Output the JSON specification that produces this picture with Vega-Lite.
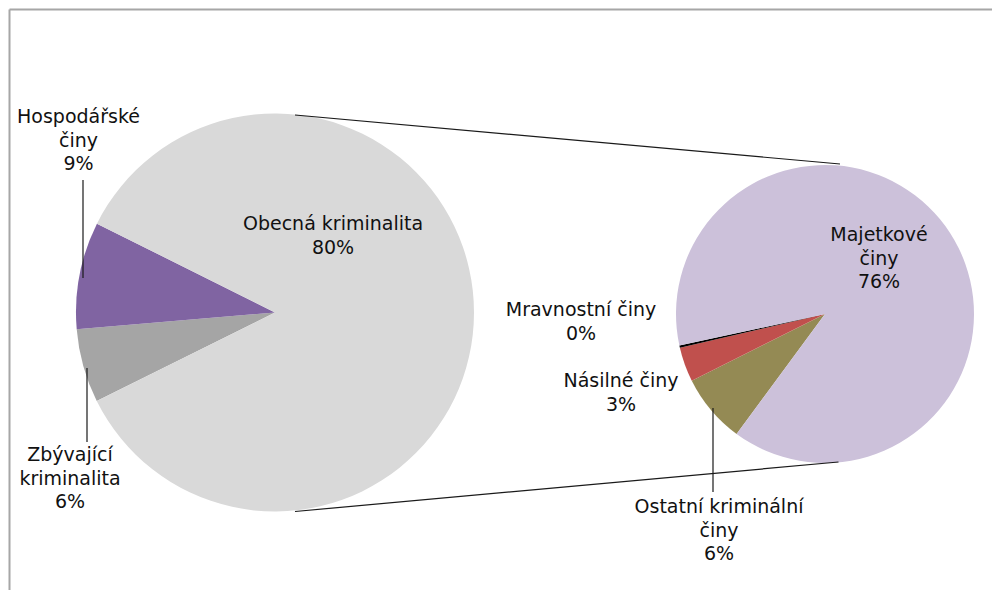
{
  "$schema": "https://vega.github.io/schema/vega-lite/v6.json",
  "autosize": {"type": "none"},
  "width": 983,
  "height": 581,
  "padding": {"left": 9, "top": 9, "right": 0, "bottom": 0},
  "background": "white",
  "config": {
    "view": {"stroke": null},
    "axis": {"ticks": false, "labels": false, "grid": false, "domainColor": "#a6a6a6", "domainWidth": 2, "title": null}
  },
  "datasets": {
    "pies": [
      {"pie": "A", "cx": 26.6, "cy": 30.35},
      {"pie": "B", "cx": 81.6, "cy": 30.5}
    ],
    "slices": [
      {"pie": "A", "kategorie": "Zbývající kriminalita", "hodnota": 6.0, "i": 1},
      {"pie": "A", "kategorie": "Hospodářské činy", "hodnota": 8.7, "i": 2},
      {"pie": "A", "kategorie": "Obecná kriminalita", "hodnota": 85.3, "i": 3},
      {"pie": "B", "kategorie": "Ostatní kriminální činy", "hodnota": 6.4, "i": 1},
      {"pie": "B", "kategorie": "Násilné činy", "hodnota": 3.2, "i": 2},
      {"pie": "B", "kategorie": "Mravnostní činy", "hodnota": 0.2, "i": 3},
      {"pie": "B", "kategorie": "Majetkové činy", "hodnota": 75.5, "i": 4}
    ],
    "lines": [
      {"typ": "spojnice", "x": 28.6, "y": 10.6, "x2": 83.1, "y2": 15.5},
      {"typ": "spojnice", "x": 28.6, "y": 50.25, "x2": 82.95, "y2": 45.3},
      {"typ": "odkaz", "x": 7.4, "y": 17.1, "x2": 7.4, "y2": 26.9},
      {"typ": "odkaz", "x": 7.8, "y": 35.9, "x2": 7.8, "y2": 43.3},
      {"typ": "odkaz", "x": 70.4, "y": 39.9, "x2": 70.4, "y2": 48.3}
    ],
    "labels": [
      {"x": 6.95, "y": 10.8, "t": "Hospodářské\nčiny\n9%"},
      {"x": 32.4, "y": 21.5, "t": "Obecná kriminalita\n80%"},
      {"x": 6.1, "y": 44.6, "t": "Zbývající\nkriminalita\n6%"},
      {"x": 57.2, "y": 30.1, "t": "Mravnostní činy\n0%"},
      {"x": 61.2, "y": 37.2, "t": "Násilné činy\n3%"},
      {"x": 87.0, "y": 22.6, "t": "Majetkové\nčiny\n76%"},
      {"x": 71.0, "y": 49.8, "t": "Ostatní kriminální\nčiny\n6%"}
    ]
  },
  "resolve": {"scale": {"theta": "independent"}},
  "layer": [
    {
      "data": {"name": "slices"},
      "transform": [
        {"filter": "datum.pie == 'A'"},
        {"lookup": "pie", "from": {"data": {"name": "pies"}, "key": "pie", "fields": ["cx", "cy"]}}
      ],
      "mark": {"type": "arc", "outerRadius": 199},
      "encoding": {
        "x": {"field": "cx", "type": "quantitative", "scale": {"domain": [0, 98.3], "nice": false, "zero": false}, "axis": {"orient": "top"}},
        "y": {"field": "cy", "type": "quantitative", "scale": {"domain": [0, 58.1], "nice": false, "zero": false, "reverse": true}, "axis": {"orient": "left"}},
        "theta": {"field": "hodnota", "type": "quantitative", "stack": true, "scale": {"range": [4.2517, 10.5349]}},
        "order": {"field": "i", "type": "quantitative"},
        "color": {
          "field": "kategorie", "type": "nominal", "legend": null,
          "scale": {
            "domain": ["Obecná kriminalita", "Hospodářské činy", "Zbývající kriminalita", "Majetkové činy", "Mravnostní činy", "Násilné činy", "Ostatní kriminální činy"],
            "range": ["#d9d9d9", "#8064a2", "#a5a5a5", "#ccc1da", "#000000", "#c0504d", "#948a54"]
          }
        }
      }
    },
    {
      "data": {"name": "slices"},
      "transform": [
        {"filter": "datum.pie == 'B'"},
        {"lookup": "pie", "from": {"data": {"name": "pies"}, "key": "pie", "fields": ["cx", "cy"]}}
      ],
      "mark": {"type": "arc", "outerRadius": 149},
      "encoding": {
        "x": {"field": "cx", "type": "quantitative", "axis": {"orient": "top"}},
        "y": {"field": "cy", "type": "quantitative", "axis": {"orient": "left"}},
        "theta": {"field": "hodnota", "type": "quantitative", "stack": true, "scale": {"range": [3.7769, 10.0601]}},
        "order": {"field": "i", "type": "quantitative"},
        "color": {"field": "kategorie", "type": "nominal", "legend": null}
      }
    },
    {
      "data": {"name": "lines"},
      "mark": {"type": "rule", "color": "#1a1a1a", "strokeWidth": 1.2},
      "encoding": {
        "x": {"field": "x", "type": "quantitative", "axis": {"orient": "top"}},
        "y": {"field": "y", "type": "quantitative", "axis": {"orient": "left"}},
        "x2": {"field": "x2"},
        "y2": {"field": "y2"}
      }
    },
    {
      "data": {"name": "labels"},
      "mark": {"type": "text", "font": "DejaVu Sans", "fontSize": 19, "lineHeight": 23.5, "lineBreak": "\n", "align": "center", "baseline": "middle", "color": "#111111"},
      "encoding": {
        "x": {"field": "x", "type": "quantitative", "axis": {"orient": "top"}},
        "y": {"field": "y", "type": "quantitative", "axis": {"orient": "left"}},
        "text": {"field": "t", "type": "nominal"}
      }
    }
  ]
}
